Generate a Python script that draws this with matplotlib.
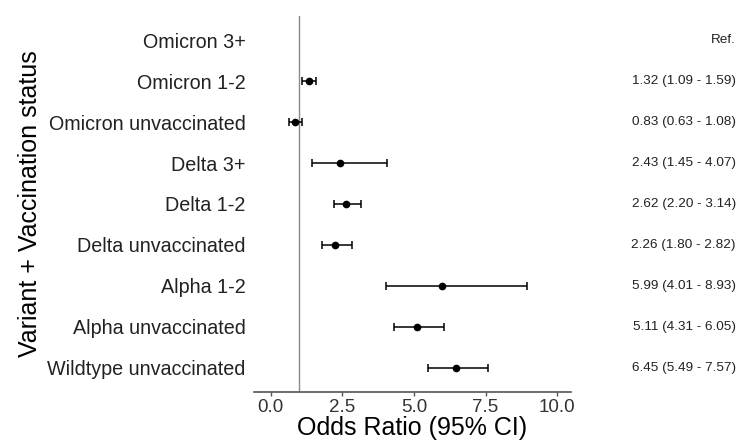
""" Forest plot: odds ratios by variant and vaccination status
"""
import numpy as np
import matplotlib
matplotlib.use("Agg")
import matplotlib.pyplot as plt
import matplotlib.transforms as mtransforms

plt.rcParams['font.family'] = ['Liberation Sans', 'DejaVu Sans']

# ------------
# Data
# ------------
groups = ["Omicron 3+", "Omicron 1-2", "Omicron unvaccinated",
          "Delta 3+", "Delta 1-2", "Delta unvaccinated",
          "Alpha 1-2", "Alpha unvaccinated", "Wildtype unvaccinated"]
odds = [np.nan, 1.32, 0.83, 2.43, 2.62, 2.26, 5.99, 5.11, 6.45]
lower = [np.nan, 1.09, 0.63, 1.45, 2.20, 1.80, 4.01, 4.31, 5.49]
upper = [np.nan, 1.59, 1.08, 4.07, 3.14, 2.82, 8.93, 6.05, 7.57]
labels = ["Ref.", "1.32 (1.09 - 1.59)", "0.83 (0.63 - 1.08)",
          "2.43 (1.45 - 4.07)", "2.62 (2.20 - 3.14)", "2.26 (1.80 - 2.82)",
          "5.99 (4.01 - 8.93)", "5.11 (4.31 - 6.05)", "6.45 (5.49 - 7.57)"]
xticks = [0.0, 2.5, 5.0, 7.5, 10.0]

# ------------
# Plot
# ------------
fig = plt.figure(figsize=(7.38, 4.41), dpi=100)
ax = fig.add_axes([0.344, 0.111, 0.43, 0.853])

ypos = np.arange(len(groups), 0, -1)
odds = np.array(odds)
err = [odds - np.array(lower), np.array(upper) - odds]

ax.axvline(1, color='#8a8a8a', linewidth=1.0, zorder=1)
ax.errorbar(odds, ypos, xerr=err, fmt='o', color='black', markersize=4.5,
            elinewidth=1.1, capsize=2.8, capthick=1.1, zorder=3)

# right-hand text column
trans = mtransforms.blended_transform_factory(fig.transFigure, ax.transData)
for y, lab in zip(ypos, labels):
    ax.text(0.997, y, lab, transform=trans, ha='right', va='center',
            fontsize=9.7, color='#222222')

ax.set_xlim(-0.59, 10.49)
ax.set_ylim(0.4, 9.6)
ax.set_yticks(ypos)
ax.set_yticklabels(groups, fontsize=14.2, color='#222222')
ax.set_xticks(xticks)
ax.set_xticklabels([f"{t:.1f}" for t in xticks], fontsize=13.5, color='#333333')
ax.tick_params(axis='y', length=0, pad=6)
ax.tick_params(axis='x', length=3, width=1, color='#555555', pad=2)

for side in ['top', 'right', 'left']:
    ax.spines[side].set_visible(False)
ax.spines['bottom'].set_color('#555555')
ax.spines['bottom'].set_linewidth(1.2)

ax.set_xlabel("Odds Ratio (95% CI)", fontsize=18, labelpad=0)
ax.set_ylabel("Variant + Vaccination status", fontsize=18, labelpad=4)

fig.savefig("out.png", dpi=100)
